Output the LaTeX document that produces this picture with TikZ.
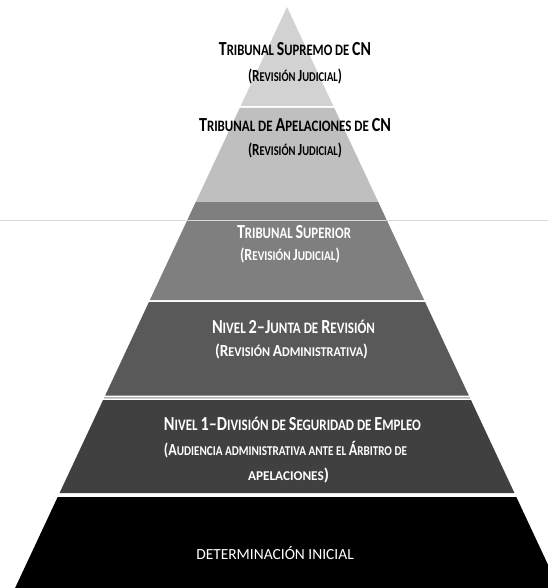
\documentclass[tikz,border=0pt]{standalone}
\usepackage{fontspec}
\setmainfont{Carlito}
\usepackage{graphicx}
\definecolor{cSup}{HTML}{D2D2D2}
\definecolor{cApe}{HTML}{BFBFBF}
\definecolor{cTS}{HTML}{7F7F7F}
\definecolor{cN2}{HTML}{595959}
\definecolor{cN1}{HTML}{404040}
\definecolor{cRule}{HTML}{D9D9D9}
\definecolor{cThin}{HTML}{B4B4B4}
\newcommand\HB[1]{{\fontsize{20}{20}\selectfont #1}}
\newcommand\SB[1]{{\fontsize{17}{17}\selectfont #1}}
\newcommand\sq[2]{\resizebox{#1bp}{\height}{#2}}
\newcommand\pyrband[3]{\fill[#3] ({287-0.468*(#1-7)},#1) -- ({287+0.468*(#1-7)},#1) -- ({287+0.468*(#2-7)},#2) -- ({287-0.468*(#2-7)},#2) -- cycle;}
\begin{document}
\begin{tikzpicture}[x=1bp,y=-1bp,
  hd/.style={anchor=base,inner sep=0pt,font=\bfseries\fontsize{16}{16}\selectfont},
  sb/.style={anchor=base,inner sep=0pt,font=\bfseries\fontsize{13.5}{13.5}\selectfont},
  dk/.style={text=black},
  lt/.style={text=white}]
\useasboundingbox (0,0) rectangle (548,588);
\clip (0,0) rectangle (548,588);
\fill[white] (0,0) rectangle (548,588);
\pyrband{7}{106}{cSup}
\pyrband{108}{202}{cApe}
\pyrband{202}{300}{cTS}
\pyrband{302}{395.5}{cN2}
\pyrband{397}{398.5}{cThin}
\pyrband{400}{493}{cN1}
\pyrband{497}{600}{black}
\coordinate (rl) at (0,220.5);
\coordinate (rr) at (548,220.5);
\draw[line width=1.6bp, cRule] (rl) -- (rr);
% texts
\node[hd,dk] (t1) at (295,56) {\sq{152}{\HB{T}RIBUNAL \HB{S}UPREMO DE \HB{CN}}};
\node[sb,dk] (t1s) at (295,82) {\sq{94}{\SB{(R}EVISIÓN \SB{J}UDICIAL\SB{)}}};
\node[hd,dk] (t2) at (295,132) {\sq{192}{\HB{T}RIBUNAL DE \HB{A}PELACIONES DE \HB{CN}}};
\node[sb,dk] (t2s) at (295,156) {\sq{94}{\SB{(R}EVISIÓN \SB{J}UDICIAL\SB{)}}};
\node[hd,lt] (t3) at (294,238) {\sq{114}{\HB{T}RIBUNAL \HB{S}UPERIOR}};
\node[sb,lt] (t3s) at (290,260) {\sq{100}{\SB{(R}EVISIÓN \SB{J}UDICIAL\SB{)}}};
\node[hd,lt] (t4) at (293.5,333) {\sq{163}{\HB{N}IVEL \HB{2–J}UNTA DE \HB{R}EVISIÓN}};
\node[sb,lt] (t4s) at (291.5,356) {\sq{153}{\SB{(R}EVISIÓN \SB{A}DMINISTRATIVA\SB{)}}};
\node[hd,lt] (t5) at (292.5,430) {\sq{257}{\HB{N}IVEL \HB{1–D}IVISIÓN DE \HB{S}EGURIDAD DE \HB{E}MPLEO}};
\node[sb,lt] (t5s) at (285.5,455) {\sq{243}{\SB{(A}UDIENCIA ADMINISTRATIVA ANTE EL \SB{Á}RBITRO DE}};
\node[sb,lt] (t5t) at (288.5,480) {\sq{81}{APELACIONES\SB{)}}};
\node[anchor=base,inner sep=0pt,text=white,font=\fontsize{15.5}{15.5}\selectfont] (t6) at (275,559) {DETERMINACIÓN INICIAL};
\end{tikzpicture}
\end{document}
